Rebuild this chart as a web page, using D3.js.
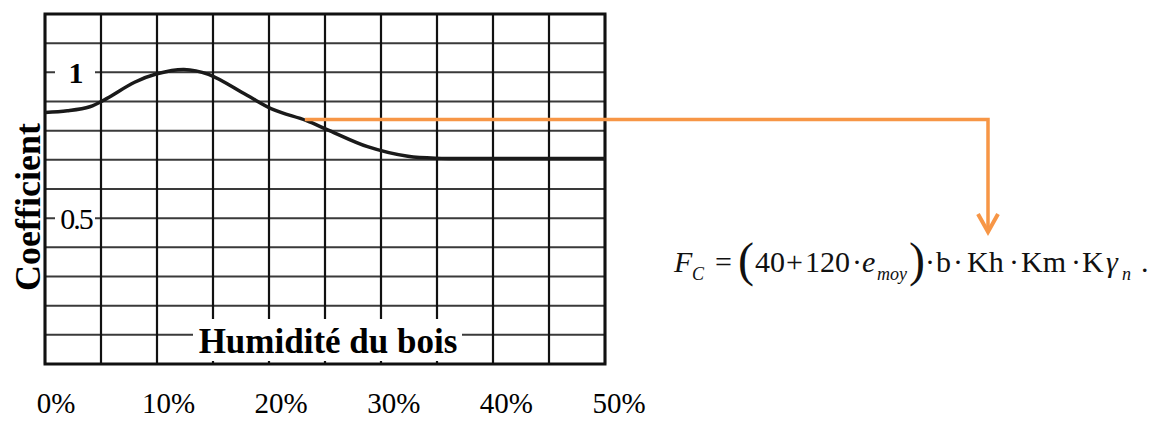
<script src="https://cdn.jsdelivr.net/npm/d3@7"></script>
<style>
  body { margin: 0; background: #fff; }
  text { font-family: "Liberation Serif", "Times New Roman", serif; }
</style>
<div id="chart"></div>
<script>
// values
var humidity    = [0, 2, 4, 5.5, 8, 10, 12.4, 14.6, 18, 20.4, 23.3, 25.4, 28.8, 32.4, 35.4, 40, 45, 50];
var coefficient = [0.862, 0.868, 0.882, 0.91, 0.966, 0.995, 1.01, 0.993, 0.922, 0.872, 0.835, 0.8, 0.745, 0.712, 0.705, 0.705, 0.705, 0.705];
var xTicks = [0, 10, 20, 30, 40, 50];
var xGrid = d3.range(0, 51, 5);
var yGrid = d3.range(0, 1.21, 0.1);
var yLabels = [1, 0.5];
var yLabelText = ["1", "0.5"];
var arrowStart = {x: 23.2, y: 0.838};

var W = 1158, H = 421;
var svg = d3.select("#chart").append("svg")
    .attr("width", W).attr("height", H)
    .attr("viewBox", "0 0 " + W + " " + H);
svg.append("rect").attr("width", W).attr("height", H).attr("fill", "#fff");

var xScale = d3.scaleLinear().domain([0, 50]).range([45, 605]);
var yScale = d3.scaleLinear().domain([0, 1.2]).range([364, 14]);
var labelScale = d3.scaleLinear().domain([0, 50]).range([56, 619]);

// grid
svg.append("g").selectAll("line").data(yGrid).join("line")
    .attr("x1", xScale(0)).attr("x2", xScale(50))
    .attr("y1", d => yScale(d)).attr("y2", d => yScale(d))
    .attr("stroke", "#3a3a3a").attr("stroke-width", 2);
svg.append("g").selectAll("line").data(xGrid).join("line")
    .attr("x1", d => xScale(d)).attr("x2", d => xScale(d))
    .attr("y1", yScale(1.2)).attr("y2", yScale(0))
    .attr("stroke", "#111").attr("stroke-width", 2.2);

// frame
svg.append("rect")
    .attr("x", xScale(0)).attr("y", yScale(1.2))
    .attr("width", xScale(50) - xScale(0)).attr("height", yScale(0) - yScale(1.2))
    .attr("fill", "none").attr("stroke", "#111").attr("stroke-width", 3);

// y labels inside the frame
yLabels.forEach(function(v, i) {
    svg.append("rect").attr("x", 55).attr("y", yScale(v) - 14)
        .attr("width", 40).attr("height", 28).attr("fill", "#fff");
    svg.append("text").attr("x", 76).attr("y", yScale(v) + 11)
        .attr("text-anchor", "middle")
        .style("font-size", "30px")
        .style("font-weight", i == 0 ? "bold" : "normal")
        .style("letter-spacing", i == 0 ? "0" : "-2px")
        .text(yLabelText[i]);
});

// x title with white box
svg.append("rect").attr("x", 193).attr("y", 319).attr("width", 269).attr("height", 42).attr("fill", "#fff");
svg.append("text").attr("x", 328).attr("y", 353)
    .attr("text-anchor", "middle")
    .style("font-size", "35px").style("font-weight", "bold")
    .text("Humidité du bois");

// y title
svg.append("text")
    .attr("transform", "translate(40," + 207 + ") rotate(-90)")
    .attr("text-anchor", "middle")
    .style("font-size", "36px").style("font-weight", "bold")
    .text("Coefficient");

// tick labels
svg.append("g").selectAll("text").data(xTicks).join("text")
    .attr("x", d => labelScale(d)).attr("y", 413)
    .attr("text-anchor", "middle")
    .style("font-size", "29px")
    .text(d => d + "%");

// curve
var line = d3.line()
    .x((d, i) => xScale(humidity[i]))
    .y(d => yScale(d))
    .curve(d3.curveCatmullRom);
svg.append("path").datum(coefficient)
    .attr("d", line)
    .attr("fill", "none").attr("stroke", "#1a1a1a").attr("stroke-width", 3.5);

// orange pointer
var orange = "#f79646";
var ax = xScale(arrowStart.x), ay = yScale(arrowStart.y);
svg.append("path")
    .attr("d", "M" + ax + "," + ay + " H988 V232")
    .attr("fill", "none").attr("stroke", orange).attr("stroke-width", 3.5);
svg.append("path")
    .attr("d", "M978,214 L988,232 L998,214")
    .attr("fill", "none").attr("stroke", orange).attr("stroke-width", 4)
    .attr("stroke-linejoin", "miter");

// formula, each piece placed where it sits in the picture
var parts = [
    {t: "F", x: 674, it: true},
    {t: "C", x: 692, it: true, sub: true},
    {t: "=", x: 715},
    {t: "(", x: 738, big: true},
    {t: "40", x: 755},
    {t: "+", x: 786},
    {t: "120", x: 805},
    {t: "·", x: 852},
    {t: "e", x: 862, it: true},
    {t: "moy", x: 877, it: true, sub: true},
    {t: ")", x: 909, big: true},
    {t: "·", x: 925},
    {t: "b", x: 936},
    {t: "·", x: 953},
    {t: "Kh", x: 967},
    {t: "·", x: 1009},
    {t: "Km", x: 1021},
    {t: "·", x: 1071},
    {t: "K", x: 1082},
    {t: "γ", x: 1106, it: true},
    {t: "n", x: 1122, it: true, sub: true},
    {t: ".", x: 1141}
];
var formula = svg.append("text").attr("x", 674).attr("y", 272)
    .style("font-size", "30px").attr("fill", "#111");
parts.forEach(function(p) {
    var ts = formula.append("tspan").attr("x", p.x).attr("y", 272).text(p.t);
    if (p.it) ts.style("font-style", "italic");
    if (p.big) ts.style("font-size", "48px").attr("y", 276);
    if (p.sub) ts.style("font-size", "18px").attr("y", 280);
});
</script>
